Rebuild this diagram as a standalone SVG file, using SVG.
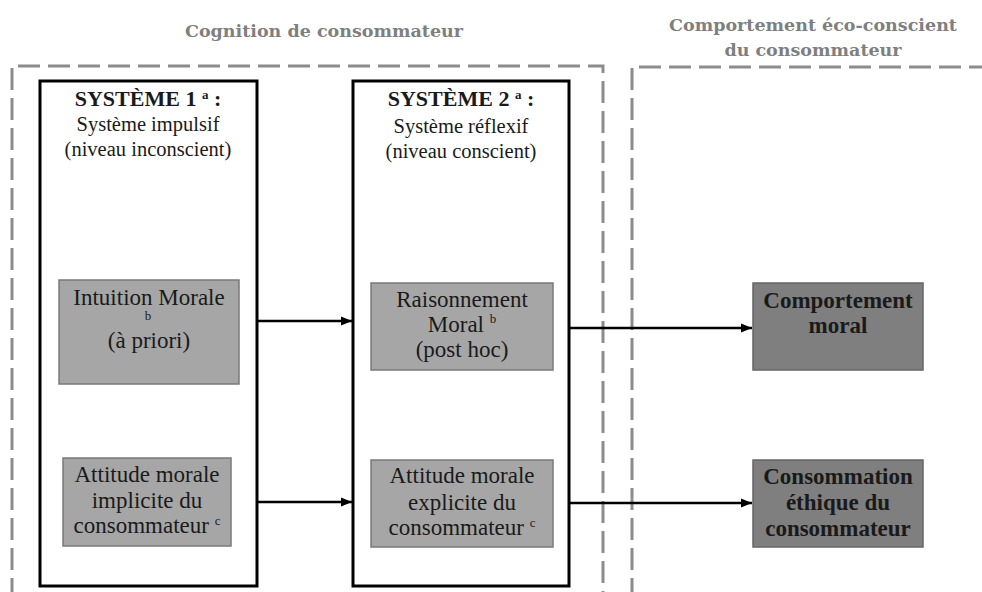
<svg xmlns="http://www.w3.org/2000/svg" width="982" height="592" viewBox="0 0 982 592">
<defs>
<marker id="arr" viewBox="0 0 10 10" refX="10" refY="5" markerWidth="4.5" markerHeight="4.5" markerUnits="strokeWidth" orient="auto">
<path d="M0,1 L10,5 L0,9 z" fill="#000"/>
</marker>
<style>
text{font-family:"Liberation Serif","DejaVu Serif",serif;text-anchor:middle;fill:#1a1a1a}
.title{font-family:"DejaVu Serif","Liberation Serif",serif;font-size:17.5px;font-weight:bold;fill:#7f7f7f}
.hd{font-size:22px;font-weight:bold}
.bd{font-size:20.5px}
.gb{font-size:23px}
.bb{font-size:23px;font-weight:bold}
.sup{font-size:13px}
.dash{fill:none;stroke:#8c8c8c;stroke-width:3;stroke-dasharray:22 8}
.sys{fill:#fff;stroke:#000;stroke-width:3}
.lg{fill:#a6a6a6;stroke:#7a7a7a;stroke-width:1.5}
.dk{fill:#7f7f7f;stroke:#666;stroke-width:1.5}
.con{fill:none;stroke:#000;stroke-width:2.5}
</style>
</defs>
<rect width="982" height="592" fill="#fff"/>
<g id="zone-cognition">
<path class="dash" d="M12,600 V66 H603 V600"/>
<text class="title" x="324" y="37">Cognition de consommateur</text>
</g>
<g id="zone-comportement">
<path class="dash" d="M632,600 V67 H990"/>
<text class="title" x="813" y="31">Comportement éco-conscient</text>
<text class="title" x="813" y="56">du consommateur</text>
</g>
<g id="systeme1">
<rect class="sys" x="40" y="81" width="217" height="505"/>
<text class="hd" x="148" y="106">SYSTÈME 1 <tspan class="sup" dy="-7">a</tspan><tspan dy="7"> :</tspan></text>
<text class="bd" x="148" y="131">Système impulsif</text>
<text class="bd" x="148" y="156">(niveau inconscient)</text>
</g>
<g id="systeme2">
<rect class="sys" x="353" y="81" width="216" height="505"/>
<text class="hd" x="461" y="106">SYSTÈME 2 <tspan class="sup" dy="-7">a</tspan><tspan dy="7"> :</tspan></text>
<text class="bd" x="461" y="133">Système réflexif</text>
<text class="bd" x="461" y="158">(niveau conscient)</text>
</g>
<g id="intuition">
<rect class="lg" x="59" y="280" width="180" height="104"/>
<text class="gb" x="149" y="305">Intuition Morale</text>
<text class="sup" x="148" y="320">b</text>
<text class="gb" x="149" y="348">(à priori)</text>
</g>
<g id="attitude-implicite">
<rect class="lg" x="63" y="458" width="168" height="88"/>
<text class="gb" x="147" y="482">Attitude morale</text>
<text class="gb" x="147" y="508">implicite du</text>
<text class="gb" x="147" y="533">consommateur <tspan class="sup" dy="-8">c</tspan></text>
</g>
<g id="raisonnement">
<rect class="lg" x="371" y="283" width="182" height="87"/>
<text class="gb" x="462" y="307">Raisonnement</text>
<text class="gb" x="462" y="332">Moral <tspan class="sup" dy="-9">b</tspan></text>
<text class="gb" x="462" y="357">(post hoc)</text>
</g>
<g id="attitude-explicite">
<rect class="lg" x="371" y="460" width="182" height="87"/>
<text class="gb" x="462" y="483">Attitude morale</text>
<text class="gb" x="462" y="510">explicite du</text>
<text class="gb" x="462" y="535">consommateur <tspan class="sup" dy="-8">c</tspan></text>
</g>
<g id="comportement-moral">
<rect class="dk" x="753" y="283" width="170" height="87"/>
<text class="bb" x="838" y="308">Comportement</text>
<text class="bb" x="838" y="333">moral</text>
</g>
<g id="consommation-ethique">
<rect class="dk" x="753" y="460" width="170" height="87"/>
<text class="bb" x="838" y="484">Consommation</text>
<text class="bb" x="838" y="510">éthique du</text>
<text class="bb" x="838" y="536">consommateur</text>
</g>
<g id="connectors">
<path class="con" d="M257,321 H352" marker-end="url(#arr)"/>
<path class="con" d="M257,502 H352" marker-end="url(#arr)"/>
<path class="con" d="M569,328 H752" marker-end="url(#arr)"/>
<path class="con" d="M569,503 H752" marker-end="url(#arr)"/>
</g>
</svg>
